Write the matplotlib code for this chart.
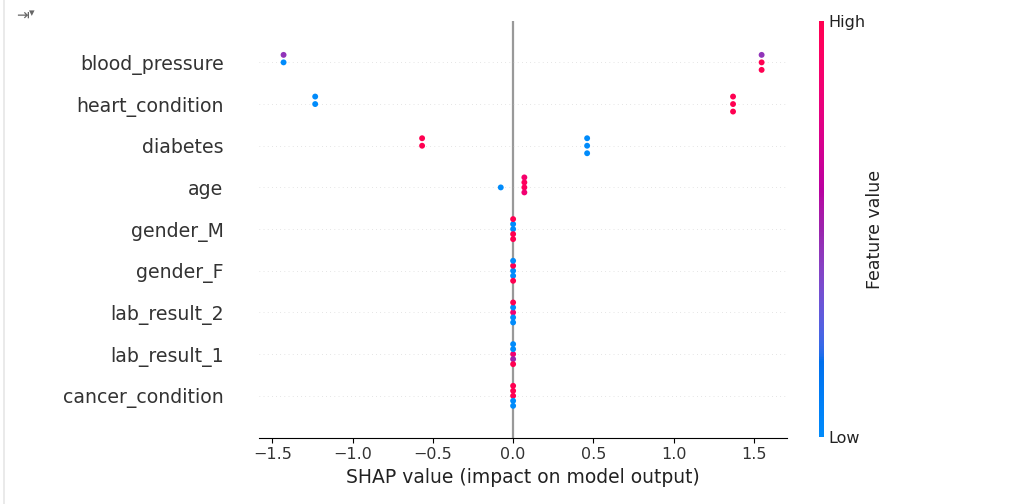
import numpy as np
import matplotlib
matplotlib.use("Agg")
import matplotlib.pyplot as plt
from matplotlib.colors import LinearSegmentedColormap
from matplotlib.lines import Line2D

# ---------------- data ----------------
features = ["blood_pressure", "heart_condition", "diabetes", "age", "gender_M",
            "gender_F", "lab_result_2", "lab_result_1", "cancer_condition"]

# SHAP values per sample (5 samples) and normalised feature values (0=low, 1=high)
shap_blood_pressure = [-1.43, -1.43, 1.548, 1.548, 1.548]
fval_blood_pressure = [0.0, 0.45, 1.0, 0.45, 1.0]

shap_heart_condition = [-1.233, -1.233, 1.37, 1.37, 1.37]
fval_heart_condition = [0.0, 0.0, 1.0, 1.0, 1.0]

shap_diabetes = [-0.567, -0.567, 0.461, 0.461, 0.461]
fval_diabetes = [1.0, 1.0, 0.0, 0.0, 0.0]

shap_age = [-0.077, 0.070, 0.070, 0.070, 0.070]
fval_age = [0.0, 0.95, 0.95, 0.85, 0.88]

shap_gender_M = [0.0, 0.0, 0.0, 0.0, 0.0]
fval_gender_M = [0.0, 0.0, 1.0, 1.0, 1.0]

shap_gender_F = [0.0, 0.0, 0.0, 0.0, 0.0]
fval_gender_F = [0.0, 1.0, 0.0, 0.0, 1.0]

shap_lab_result_2 = [0.0, 0.0, 0.0, 0.0, 0.0]
fval_lab_result_2 = [0.85, 0.0, 0.0, 1.0, 0.0]

shap_lab_result_1 = [0.0, 0.0, 0.0, 0.0, 0.0]
fval_lab_result_1 = [0.85, 0.0, 0.5, 0.0, 1.0]

shap_cancer_condition = [0.0, 0.0, 0.0, 0.0, 0.0]
fval_cancer_condition = [1.0, 1.0, 0.0, 1.0, 0.0]

shap_rows = [shap_blood_pressure, shap_heart_condition, shap_diabetes, shap_age,
             shap_gender_M, shap_gender_F, shap_lab_result_2, shap_lab_result_1,
             shap_cancer_condition]
fval_rows = [fval_blood_pressure, fval_heart_condition, fval_diabetes, fval_age,
             fval_gender_M, fval_gender_F, fval_lab_result_2, fval_lab_result_1,
             fval_cancer_condition]

# ---------------- SHAP red_blue colormap (LCH interpolation) ----------------
def lch2rgb(lch):
    L, C, H = lch
    a = C * np.cos(H)
    b = C * np.sin(H)
    fy = (L + 16.0) / 116.0
    fx = fy + a / 500.0
    fz = fy - b / 200.0
    def finv(t):
        t3 = t ** 3
        return t3 if t3 > 0.008856 else (t - 16.0 / 116.0) / 7.787
    X = 0.95047 * finv(fx)
    Y = 1.00000 * finv(fy)
    Z = 1.08883 * finv(fz)
    M = np.array([[3.2404542, -1.5371385, -0.4985314],
                  [-0.9692660, 1.8760108, 0.0415560],
                  [0.0556434, -0.2040259, 1.0572252]])
    rgb = M @ np.array([X, Y, Z])
    out = []
    for v in rgb:
        v = 1.055 * v ** (1 / 2.4) - 0.055 if v > 0.0031308 else 12.92 * v
        out.append(min(max(v, 0.0), 1.0))
    return out

blue_lch = [54., 70., 4.6588]
l_mid = 40.
red_lch = [54., 90., 0.35470565 + 2 * np.pi]
nsteps = 100
l_vals = list(np.linspace(blue_lch[0], l_mid, nsteps // 2)) + list(np.linspace(l_mid, red_lch[0], nsteps // 2))
c_vals = np.linspace(blue_lch[1], red_lch[1], nsteps)
h_vals = np.linspace(blue_lch[2], red_lch[2], nsteps)
cols = [lch2rgb([l, c, h]) for l, c, h in zip(l_vals, c_vals, h_vals)]
cols[0] = [0.0, 0.5434, 0.9834]
cols[-1] = [1.0, 0.0, 0.3180]
red_blue = LinearSegmentedColormap.from_list("red_blue", cols)

# ---------------- figure ----------------
plt.rcParams['font.family'] = ['DejaVu Sans']
fig = plt.figure(figsize=(10.24, 5.04), dpi=100)
ax = fig.add_axes([259 / 1024, 66.5 / 504, 527.5 / 1024, 416.8 / 504])

ax.axvline(x=0, color="#999999", zorder=-1, lw=1.6)

row_height = 0.4
nbins = 100
N = len(features)
for i, (shaps, fvals) in enumerate(zip(shap_rows, fval_rows)):
    pos = N - 1 - i
    ax.axhline(y=pos, color="#cccccc", lw=0.5, dashes=(1, 5), zorder=-1)
    shaps = np.array(shaps, dtype=float)
    fvals = np.array(fvals, dtype=float)
    n = len(shaps)
    quant = np.round(nbins * (shaps - shaps.min()) / (shaps.max() - shaps.min() + 1e-8))
    inds = np.argsort(quant, kind="stable")
    layer = 0
    last_bin = -1
    ys = np.zeros(n)
    for ind in inds:
        if quant[ind] != last_bin:
            layer = 0
        ys[ind] = np.ceil(layer / 2) * ((layer % 2) * 2 - 1)
        layer += 1
        last_bin = quant[ind]
    ys *= 0.9 * (row_height / np.max(ys + 1))
    ax.scatter(shaps, pos + ys, c=fvals, cmap=red_blue, vmin=0, vmax=1,
               s=18, linewidth=0, zorder=3)

ax.set_xlim(-1.583, 1.703)
ax.set_ylim(-1, N)
ax.set_yticks(range(N))
ax.set_yticklabels(features[::-1], fontsize=13.6, color="#333333")
ax.tick_params('y', length=22, width=0.5, which='major', color=(0, 0, 0, 0))
ax.tick_params('x', labelsize=11.5, labelcolor="#333333")
ax.set_xticks([-1.5, -1.0, -0.5, 0.0, 0.5, 1.0, 1.5])
ax.set_xlabel("SHAP value (impact on model output)", fontsize=13.5, color="#222222")
for s in ["top", "right", "left"]:
    ax.spines[s].set_visible(False)

# colorbar
cax = fig.add_axes([819 / 1024, 67 / 504, 5 / 1024, 416 / 504])
m = matplotlib.cm.ScalarMappable(cmap=red_blue)
m.set_array([0, 1])
cb = fig.colorbar(m, cax=cax, ticks=[0, 1])
cb.set_ticklabels(["Low", "High"])
cb.set_label("Feature value", size=12.5, labelpad=0, color="#222222")
cb.ax.tick_params(labelsize=11.5, length=0, labelcolor="#222222")
cb.outline.set_visible(False)

# notebook cell border and output-toggle icon
fig.add_artist(Line2D([4 / 1024, 4 / 1024], [0, 1], color="#e6e6e6", lw=1.2))
fig.text(16 / 1024, 1 - 15 / 504, "\u21e5", fontsize=11, color="#666666", va="center", ha="left")
fig.text(29 / 1024, 1 - 13 / 504, "\u25be", fontsize=8, color="#666666", va="center", ha="left")

fig.savefig("out.png", dpi=100)
